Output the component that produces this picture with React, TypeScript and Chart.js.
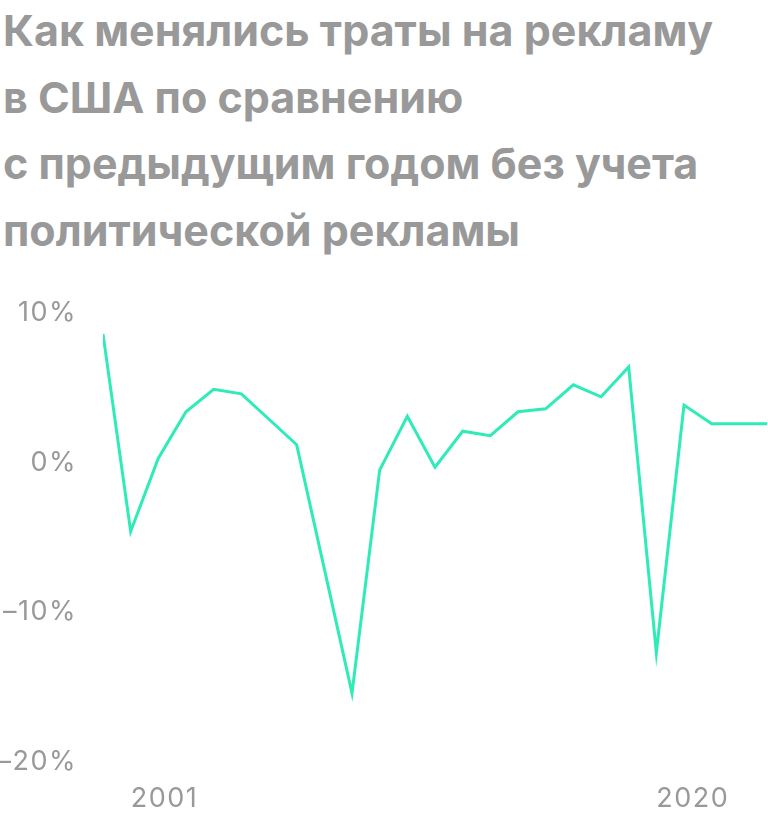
import React, { useEffect, useRef } from "react";
import { Chart, registerables } from "chart.js";

Chart.register(...registerables);

const TITLE_LINES = [
  "Как менялись траты на рекламу",
  "в США по сравнению",
  "с предыдущим годом без учета",
  "политической рекламы",
];

const YEARS = [
  2000, 2001, 2002, 2003, 2004, 2005, 2006, 2007, 2008, 2009, 2010, 2011, 2012,
  2013, 2014, 2015, 2016, 2017, 2018, 2019, 2020, 2021, 2022, 2023, 2024,
];

const AD_SPEND_CHANGE = [
  8.6, -4.6, 0.3, 3.4, 4.9, 4.6, 2.9, 1.2, -7.1, -15.4, -0.5, 3.1, -0.3, 2.1,
  1.8, 3.4, 3.6, 5.2, 4.4, 6.4, -12.7, 3.85, 2.6, 2.6, 2.6,
];

const X_TICK_YEARS = [2001, 2020];
const Y_TICKS = [10, 0, -10, -20];

const LINE_COLOR = "#2eebb8";
const TEXT_COLOR = "#999999";

const letterSpacingPlugin = {
  id: "letterSpacing",
  beforeDraw(chart: any) {
    try {
      chart.ctx.letterSpacing = "1.5px";
    } catch (e) {}
  },
};

export default function App() {
  const canvasRef = useRef<HTMLCanvasElement | null>(null);

  useEffect(() => {
    const canvas = canvasRef.current;
    if (!canvas) return;
    const chart = new Chart(canvas, {
      type: "line",
      data: {
        datasets: [
          {
            data: YEARS.map((y, i) => ({ x: y, y: AD_SPEND_CHANGE[i] })),
            borderColor: LINE_COLOR,
            borderWidth: 3,
            pointRadius: 0,
            tension: 0,
            fill: false,
          },
        ],
      },
      plugins: [letterSpacingPlugin],
      options: {
        animation: false,
        responsive: false,
        layout: { padding: { top: 47, right: 1, left: 0, bottom: 0 } },
        plugins: {
          legend: { display: false },
          tooltip: { enabled: false },
          title: { display: false },
        },
        scales: {
          x: {
            type: "linear",
            min: YEARS[0],
            max: YEARS[YEARS.length - 1],
            grid: { display: false, drawTicks: false },
            border: { display: false },
            afterBuildTicks: (scale: any) => {
              scale.ticks = X_TICK_YEARS.map((v) => ({ value: v }));
            },
            afterFit: (scale: any) => {
              scale.height = 59;
            },
            ticks: {
              align: "start",
              padding: 21,
              color: TEXT_COLOR,
              font: { family: "Inter", size: 27 },
              callback: (v: any) => String(v),
            },
          },
          y: {
            min: -20,
            max: 10,
            grid: { display: false, drawTicks: false },
            border: { display: false },
            afterBuildTicks: (scale: any) => {
              scale.ticks = Y_TICKS.map((v) => ({ value: v }));
            },
            afterFit: (scale: any) => {
              scale.width = 103;
            },
            ticks: {
              padding: 26,
              color: TEXT_COLOR,
              font: { family: "Inter", size: 27 },
              callback: (v: any) =>
                (v < 0 ? "\u2013" + Math.abs(v) : String(v)) + "%",
            },
          },
        },
      },
    });
    return () => chart.destroy();
  }, []);

  return (
    <div
      style={{
        position: "absolute",
        left: 0,
        top: 0,
        width: 768,
        height: 821,
        background: "#fff",
        overflow: "hidden",
      }}
    >
      <div
        style={{
          position: "absolute",
          left: 3,
          top: -3,
          fontFamily: "Inter, sans-serif",
          fontWeight: 700,
          fontSize: 43,
          lineHeight: "66.5px",
          color: TEXT_COLOR,
          whiteSpace: "nowrap",
        }}
      >
        {TITLE_LINES.map((l, i) => (
          <div key={i}>{l}</div>
        ))}
      </div>
      <canvas
        ref={canvasRef}
        width={768}
        height={555}
        style={{ position: "absolute", left: 0, top: 266, width: 768, height: 555 }}
      />
    </div>
  );
}
